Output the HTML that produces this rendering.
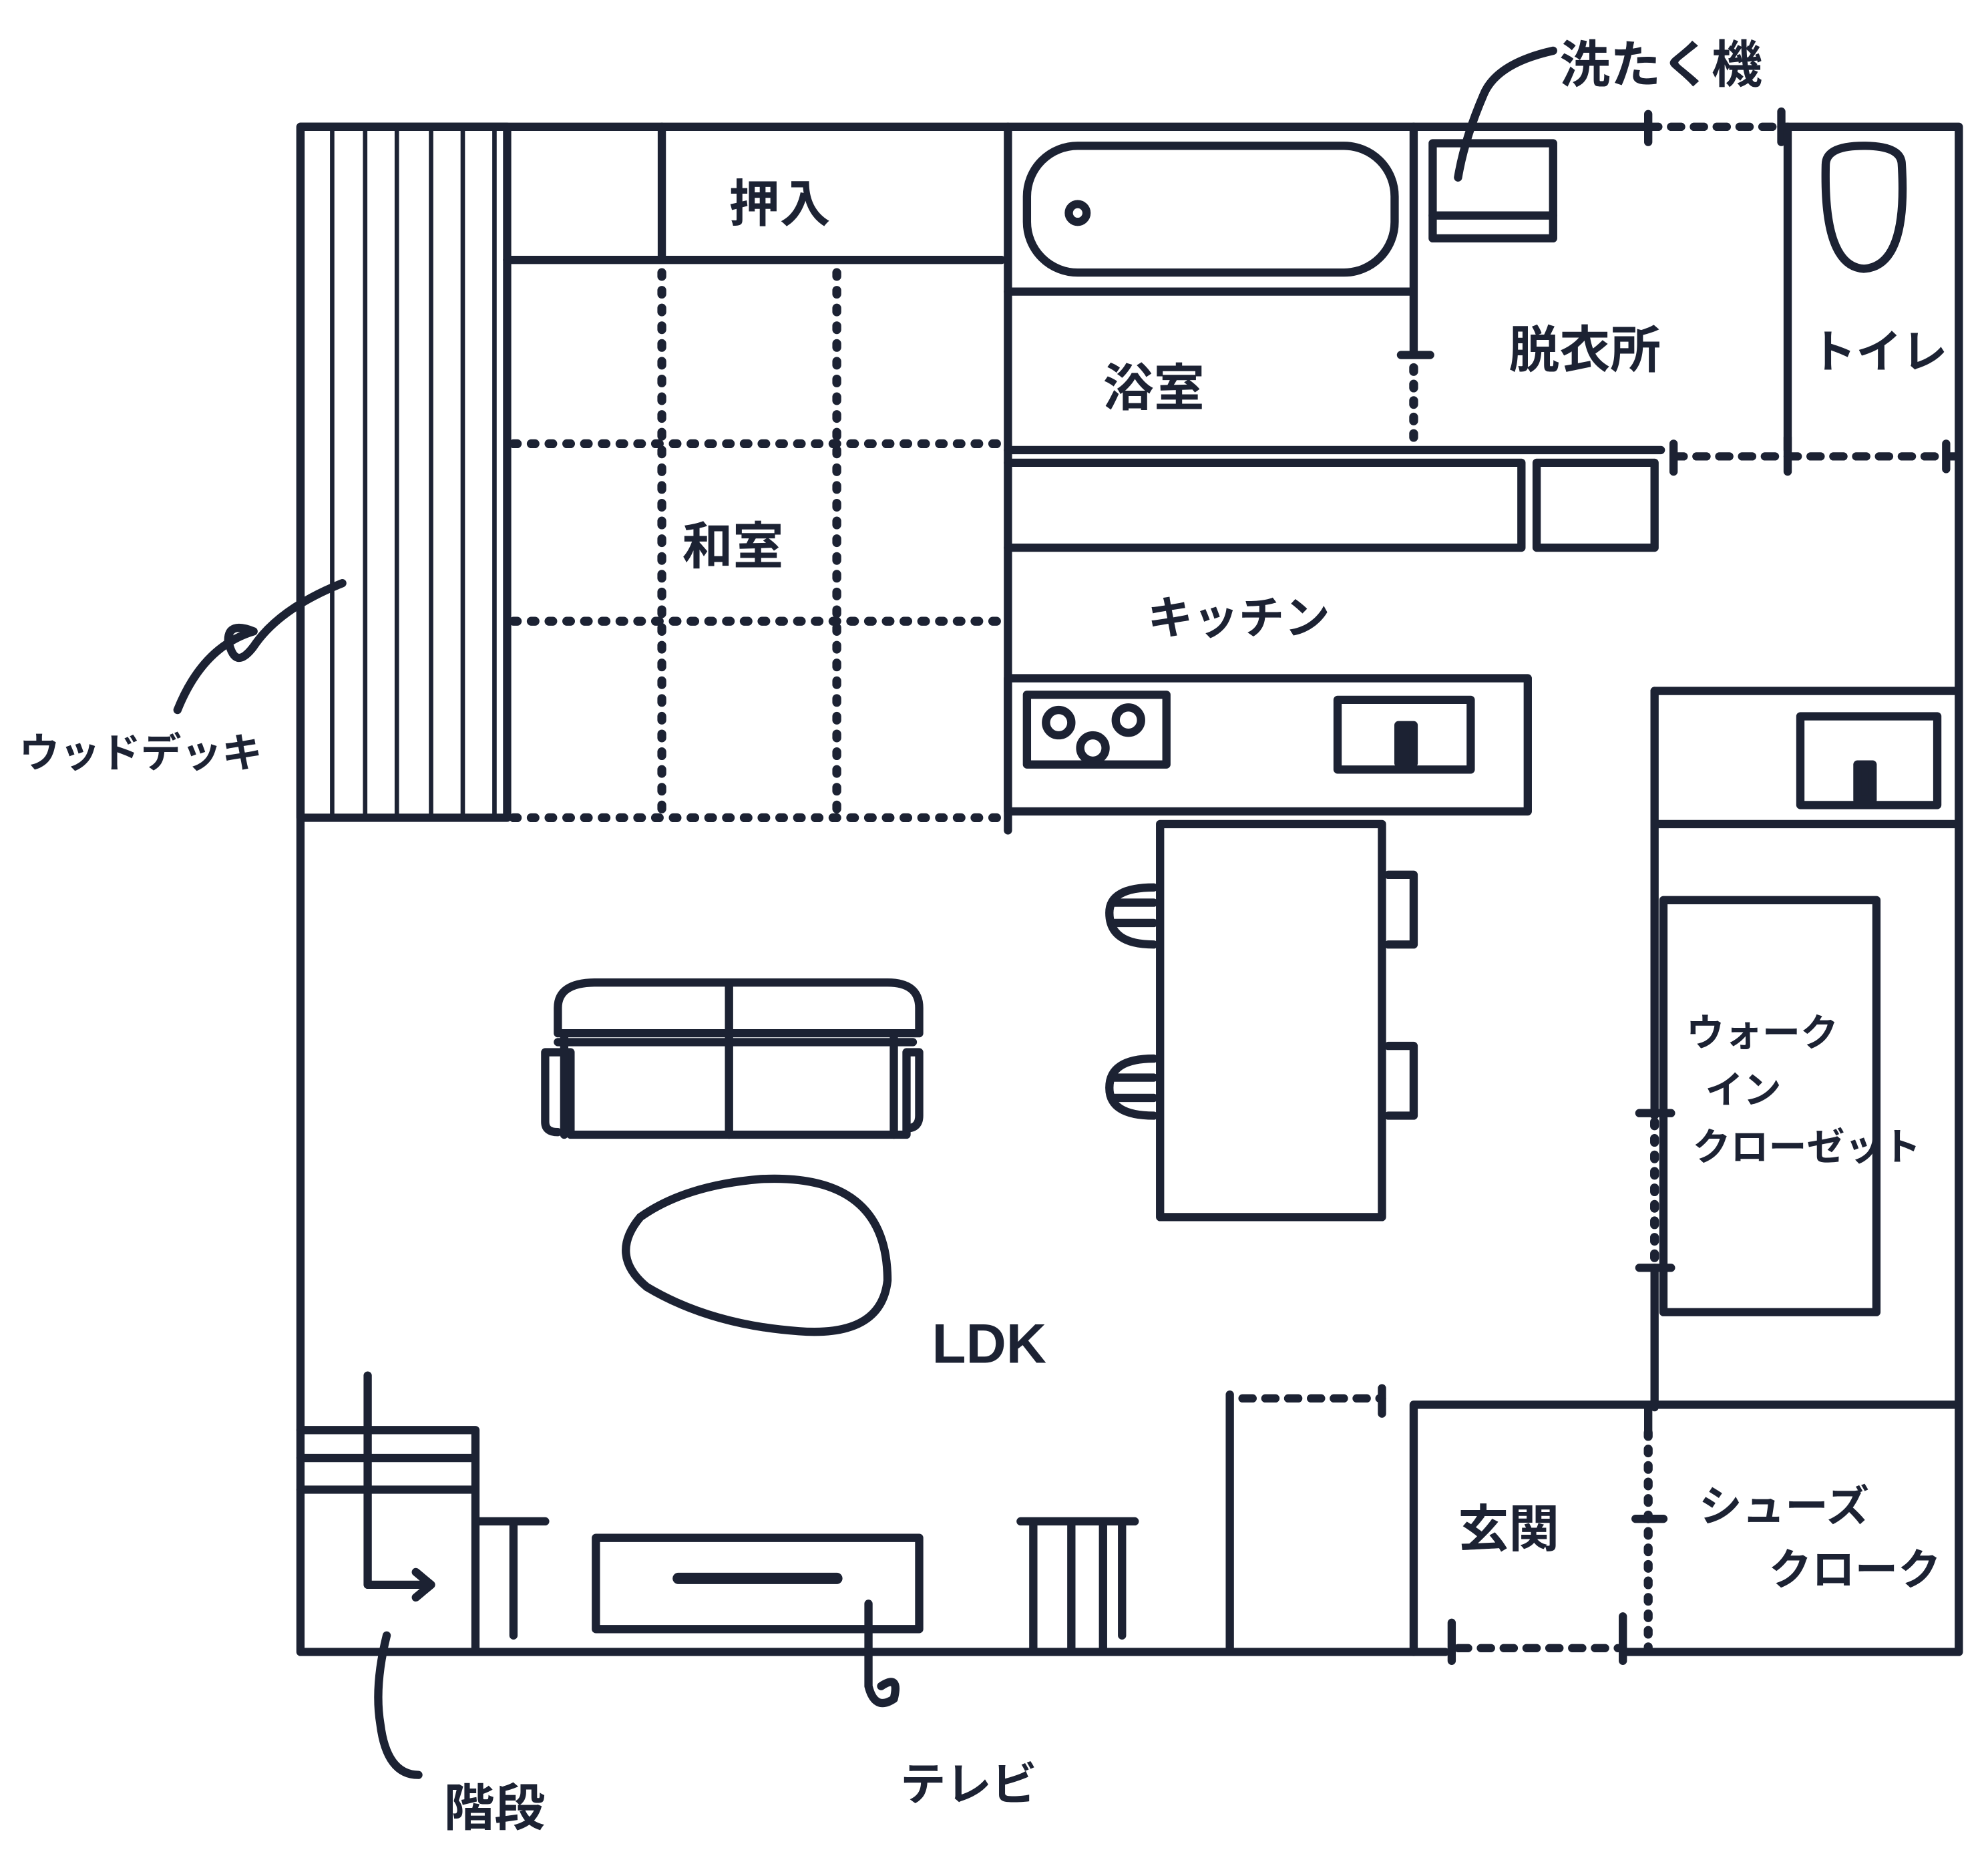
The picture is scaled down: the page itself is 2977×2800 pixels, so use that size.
<!DOCTYPE html>
<html><head><meta charset="utf-8"><style>
html,body{margin:0;padding:0;background:#fff;}
svg{display:block;}
text{font-family:"Liberation Sans","Noto Sans CJK JP",sans-serif;fill:#1c2233;font-weight:bold;}
</style></head><body>
<svg width="2977" height="2800" viewBox="0 0 1568 1475" preserveAspectRatio="none">
<g stroke="#1c2233" stroke-width="6.5" fill="none" stroke-linecap="round" stroke-linejoin="round">
<path d="M237 100 H1300 M1405 100 H1545 V1303 H1280 M1140 1303 H237 V100"/>
<path d="M1300 100 H1405" stroke-dasharray="8 10"/>
<path d="M1300 90 V112 M1405 88 V112"/>
<rect x="237" y="100" width="163" height="545"/>
<path d="M262 100V645M288 100V645M313 100V645M340 100V645M365 100V645M390 100V645" stroke-width="3.5"/>
<path d="M400 205 H790 M522 100 V205"/>
<g stroke-dasharray="3 11" stroke-width="7">
<path d="M522 215V645M660 215V645M405 350H790M405 490H790M405 645H790"/>
</g>
<path d="M795 100 V655"/>
<rect x="810" y="115" width="290" height="100" rx="40"/>
<circle cx="850" cy="168" r="7"/>
<path d="M795 230 H1115 M1115 100 V280 M1105 280 H1128"/>
<path d="M1115 290 V355" stroke-dasharray="3 10" stroke-width="7"/>
<path d="M795 355 H1310"/>
<path d="M1320 360 H1545" stroke-dasharray="8 10"/>
<path d="M1320 350 V372 M1410 345 V372 M1535 350 V370"/>
<rect x="1130" y="113" width="95" height="75"/>
<path d="M1130 170 H1225"/>
<path d="M1410 100 V355"/>
<path d="M1440 130 Q1440 115 1470 115 Q1500 115 1500 130 Q1505 210 1470 212 Q1438 210 1440 130Z"/>
<path d="M795 365 H1200 V432 H795"/>
<rect x="1212" y="365" width="93" height="67"/>
<rect x="795" y="535" width="410" height="105"/>
<rect x="810" y="548" width="110" height="55"/>
<circle cx="835" cy="570" r="10"/><circle cx="890" cy="568" r="10"/><circle cx="862" cy="590" r="10"/>
<rect x="1055" y="552" width="105" height="55"/>
<rect x="1103" y="572" width="12" height="30" fill="#1c2233"/>
<rect x="915" y="650" width="175" height="310"/>
<path d="M910 700 Q875 700 875 720 Q875 745 910 745 M878 712H910M878 728H910"/>
<path d="M910 835 Q875 835 875 858 Q875 880 910 880 M878 850H910M878 866H910"/>
<path d="M1095 690 H1115 V745 H1095 M1095 825 H1115 V880 H1095"/>
<path d="M1305 545 V880 M1305 1000 V1110"/>
<path d="M1305 545 H1545 M1305 650 H1545"/>
<rect x="1420" y="565" width="108" height="70"/>
<rect x="1465" y="603" width="12" height="28" fill="#1c2233"/>
<rect x="1312" y="710" width="168" height="325"/>
<path d="M1305 885 V1000" stroke-dasharray="3 10" stroke-width="7"/>
<path d="M1293 878H1318M1293 1000H1318"/>
<path d="M1115 1108 H1545 M1115 1108 V1303 M970 1100 V1300"/>
<path d="M980 1103 H1090" stroke-dasharray="8 10"/>
<path d="M1090 1095 V1115 M1300 1110 V1130"/>
<path d="M1300 1130 V1300" stroke-dasharray="3 10" stroke-width="7"/>
<path d="M1290 1198 H1312"/>
<path d="M1150 1300 H1280" stroke-dasharray="8 10"/>
<path d="M1145 1280 V1310 M1280 1275 V1310"/>
<path d="M237 1128 H375 V1300 M237 1150 H375 M237 1175 H375 M375 1200 H430 M405 1200 V1290 M290 1085 V1250 H340 M328 1240 L340 1250 L328 1260"/>
<rect x="470" y="1213" width="255" height="72"/>
<path d="M535 1245 H660" stroke-width="9"/>
<path d="M805 1200 H895 M815 1200V1300 M845 1200V1300 M870 1200V1300 M885 1200V1290"/>
<path d="M440 795 Q440 775 470 775 H700 Q725 775 725 795 V815 H440Z"/>
<path d="M430 830 H450 V895 H715 V830 H725 V880 Q725 890 715 890 M430 830 V885 Q430 893 440 893"/>
<path d="M445 815 V895 M575 775 V895 M705 815 V895 M440 822 H720"/>
<path d="M600 930 Q700 925 700 1010 Q695 1055 630 1050 Q560 1045 510 1015 Q480 990 505 960 Q540 935 600 930Z"/>
<path d="M1225 40 Q1180 50 1170 75 Q1155 110 1150 140"/>
<path d="M270 460 Q220 480 200 510 Q185 530 180 505 Q180 490 200 498 Q160 510 140 560"/>
<path d="M305 1290 Q295 1330 300 1360 Q305 1400 330 1400"/>
<path d="M685 1265 V1330 Q690 1350 705 1340 Q710 1320 695 1330"/>
</g>
<g font-size="40">
<text x="575" y="175">押入</text>
<text x="870" y="320">浴室</text>
<text x="1190" y="290">脱衣所</text>
<text x="1428" y="290" font-size="36">トイレ</text>
<text x="538" y="445">和室</text>
<text x="905" y="500" font-size="36">キッチン</text>
<text x="1230" y="65">洗たく機</text>
<text x="15" y="605" font-size="32">ウッドデッキ</text>
<text x="735" y="1075" font-size="44">LDK</text>
<text x="1330" y="825" font-size="30">ウォーク</text>
<text x="1345" y="870" font-size="30">イン</text>
<text x="1335" y="915" font-size="30">クローゼット</text>
<text x="1150" y="1220">玄関</text>
<text x="1340" y="1200" font-size="34">シューズ</text>
<text x="1395" y="1250" font-size="34">クローク</text>
<text x="350" y="1440">階段</text>
<text x="710" y="1420" font-size="36">テレビ</text>
</g>
</svg>
</body></html>
